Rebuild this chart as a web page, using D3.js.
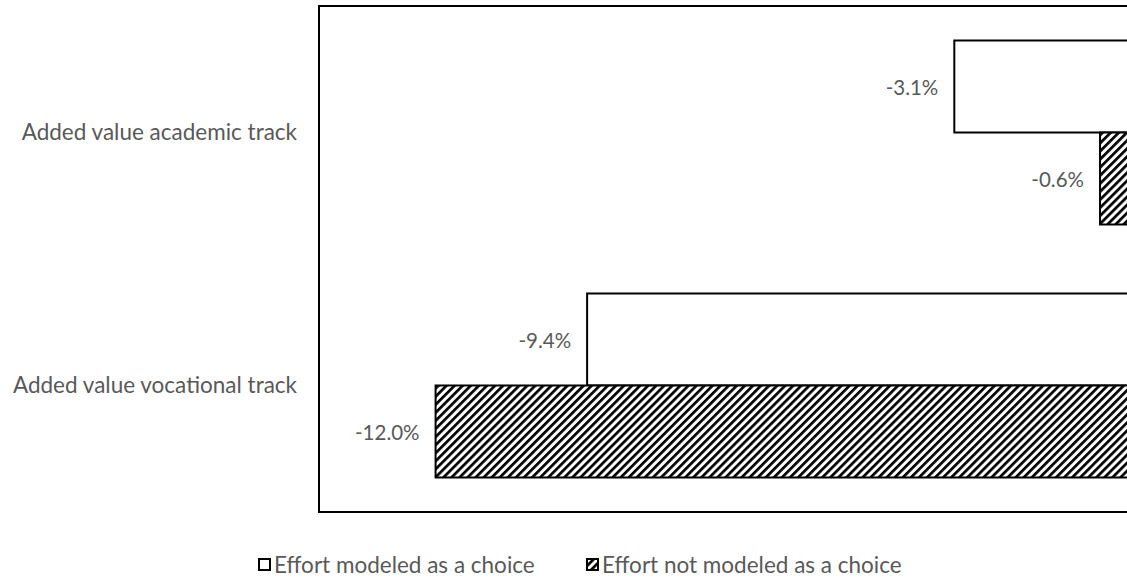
<!DOCTYPE html>
<html>
<head>
<meta charset="utf-8">
<script src="https://cdn.jsdelivr.net/npm/d3@7"></script>
<style>
  html, body { margin: 0; padding: 0; background: #fff; }
  svg { display: block; }
  text { font-family: Lato, "Open Sans", sans-serif; fill: #595959; }
</style>
</head>
<body>
<svg id="chart" width="1127" height="578"></svg>
<script>
const categories = ["Added value academic track", "Added value vocational track"];
const seriesNames = ["Effort modeled as a choice", "Effort not modeled as a choice"];
const choiceValues = [-3.1, -9.4];
const notChoiceValues = [-0.6, -12.0];
const xDomain = [-14, 0];

const svg = d3.select("#chart");
const plot = { left: 319, right: 1135, top: 6, bottom: 512 };

const defs = svg.append("defs");
const P = 5.7;
const pat = defs.append("pattern")
  .attr("id", "hatch")
  .attr("patternUnits", "userSpaceOnUse")
  .attr("width", P).attr("height", P)
  .attr("patternTransform", "rotate(45)");
pat.append("rect").attr("width", P).attr("height", P).attr("fill", "#fff");
pat.append("rect").attr("x", 0).attr("y", 0).attr("width", 2.7).attr("height", P).attr("fill", "#000");

const x = d3.scaleLinear().domain(xDomain).range([plot.left, plot.right]);
const y = d3.scaleBand().domain(categories).range([plot.top, plot.bottom])
  .paddingInner(0.2727).paddingOuter(0.1364);
const ySub = d3.scaleBand().domain([0, 1]).range([0, y.bandwidth()]);

const data = [];
categories.forEach((c, i) => {
  data.push({ cat: c, s: 0, v: choiceValues[i] });
  data.push({ cat: c, s: 1, v: notChoiceValues[i] });
});

svg.append("rect")
  .attr("x", plot.left).attr("y", plot.top)
  .attr("width", plot.right - plot.left).attr("height", plot.bottom - plot.top)
  .attr("fill", "none").attr("stroke", "#000").attr("stroke-width", 2);

svg.selectAll("rect.bar").data(data).enter().append("rect")
  .attr("class", "bar")
  .attr("x", d => x(d.v))
  .attr("y", d => y(d.cat) + ySub(d.s))
  .attr("width", d => x(0) - x(d.v))
  .attr("height", ySub.bandwidth())
  .attr("fill", d => d.s === 0 ? "#fff" : "url(#hatch)")
  .attr("stroke", "#000").attr("stroke-width", 2);

const fmt = v => v.toFixed(1) + "%";
svg.selectAll("text.lbl").data(data).enter().append("text")
  .attr("class", "lbl")
  .attr("x", d => x(d.v) - 16)
  .attr("y", d => y(d.cat) + ySub(d.s) + ySub.bandwidth() / 2 + 1)
  .attr("dy", "0.35em")
  .attr("text-anchor", "end")
  .attr("font-size", 20.5)
  .text(d => fmt(d.v));

const yAxis = d3.axisLeft(y).tickSize(0).tickPadding(22);
const ga = svg.append("g").attr("transform", `translate(${plot.left},0)`).call(yAxis);
ga.select(".domain").remove();
ga.selectAll("text").attr("font-size", 22.5).attr("fill", "#595959")
  .style("font-family", "Lato, 'Open Sans', sans-serif");

const legendY = 565;
const legendItems = [
  { name: seriesNames[0], fill: "#fff", x: 258 },
  { name: seriesNames[1], fill: "url(#hatch)", x: 586 }
];
const lg = svg.selectAll("g.leg").data(legendItems).enter().append("g")
  .attr("class", "leg")
  .attr("transform", d => `translate(${d.x},${legendY})`);
lg.append("rect").attr("x", 1).attr("y", -6).attr("width", 11).attr("height", 11)
  .attr("fill", d => d.fill).attr("stroke", "#000").attr("stroke-width", 2);
lg.append("text").attr("x", 16).attr("y", 0).attr("dy", "0.35em")
  .attr("font-size", 22.5).text(d => d.name);
</script>
</body>
</html>
